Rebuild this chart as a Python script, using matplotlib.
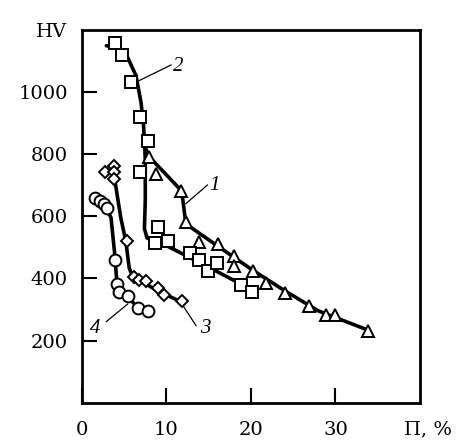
import matplotlib.pyplot as plt

plt.rcParams['font.family'] = ['DejaVu Serif']

# measured points (П, %  vs  HV)
tri_x = [8.0, 8.8, 11.7, 12.3, 13.9, 16.1, 18.05, 18.05, 20.2, 21.8, 24.0, 26.9, 28.9, 29.9, 33.8]
tri_y = [790, 734, 681, 580, 517, 510, 471, 439, 423, 385, 353, 310, 281, 283, 231]

sq_x = [3.93, 4.7, 5.8, 6.9, 7.8, 6.9, 8.97, 8.7, 10.2, 12.8, 13.8, 14.9, 16.0, 18.8, 20.1]
sq_y = [1157, 1118, 1030, 920, 842, 742, 564, 514, 519, 482, 460, 425, 449, 377, 356]

dia_x = [2.75, 3.85, 3.85, 3.85, 5.35, 6.2, 6.7, 7.6, 9.0, 9.7, 11.9]
dia_y = [743, 761, 743, 718, 519, 403, 396, 392, 369, 345, 326]

circ_x = [1.55, 2.2, 2.6, 3.0, 3.9, 4.2, 4.45, 5.5, 6.6, 7.8]
circ_y = [659, 648, 640, 625, 458, 382, 356, 342, 306, 296]

# hand-drawn trend curves
c1_x = [7.6, 8.0, 11.8, 12.0, 12.3, 16, 20, 24, 28, 34]
c1_y = [815, 790, 681, 640, 575, 505, 430, 360, 295, 232]

c2_x = [2.9, 4.2, 5.4, 6.4, 7.0, 7.3, 7.5, 7.5, 7.4, 7.7, 8.5, 10, 14, 20.2]
c2_y = [1148, 1140, 1111, 1052, 965, 890, 783, 650, 560, 530, 518, 505, 450, 362]

c3_x = [3.85, 3.9, 4.6, 5.2, 5.6, 6.0, 6.8, 9.0, 11.9]
c3_y = [760, 715, 595, 519, 433, 406, 393, 360, 322]

c4_x = [1.5, 2.85, 3.45, 3.85, 4.1, 4.65, 5.6, 6.6]
c4_y = [665, 627, 595, 487, 401, 358, 336, 306]

# curve labels: text position and leader line end on the curve
labels = ['1', '2', '3', '4']
lab_x = [15.7, 11.4, 14.6, 1.6]
lab_y = [700, 1080, 238, 238]
lead_x0 = [12.3, 6.8, 11.9, 2.9]
lead_y0 = [640, 1036, 315, 261]
lead_x1 = [14.85, 10.55, 13.5, 5.4]
lead_y1 = [700, 1086, 248, 317]

fig = plt.figure(figsize=(4.6, 4.47), dpi=100)
ax = fig.add_axes([0.178, 0.099, 0.735, 0.835])

lw = 2.6
for cx, cy in [(c1_x, c1_y), (c2_x, c2_y), (c3_x, c3_y), (c4_x, c4_y)]:
    ax.plot(cx, cy, color='black', lw=lw, zorder=2, solid_capstyle='round', solid_joinstyle='round')

mk = dict(linestyle='none', mfc='white', mec='black', mew=1.4, zorder=3)
ax.plot(tri_x, tri_y, marker='^', ms=9, **mk)
ax.plot(sq_x, sq_y, marker='s', ms=9, **mk)
ax.plot(dia_x, dia_y, marker='D', ms=6, **mk)
ax.plot(circ_x, circ_y, marker='o', ms=8.5, **mk)

for i in range(len(labels)):
    ax.plot([lead_x0[i], lead_x1[i]], [lead_y0[i], lead_y1[i]], color='black', lw=0.9)
    ax.text(lab_x[i], lab_y[i], labels[i], fontsize=15, style='italic', ha='center', va='center',
            family=['Liberation Serif', 'DejaVu Serif'])

ax.set_xlim(0, 40)
ax.set_ylim(0, 1200)
ax.set_xticks([0, 10, 20, 30])
ax.set_yticks([200, 400, 600, 800, 1000])
ax.tick_params(direction='in', length=11, width=1.5, labelsize=14, pad=10)
ax.tick_params(axis='x', pad=13)
for s in ax.spines.values():
    s.set_linewidth(2)

fig.text(0.113, 0.928, 'HV', fontsize=14, ha='center', va='center')
fig.text(0.93, 0.04, 'П, %', fontsize=14, ha='center', va='center')

fig.savefig('out.png', dpi=100)
